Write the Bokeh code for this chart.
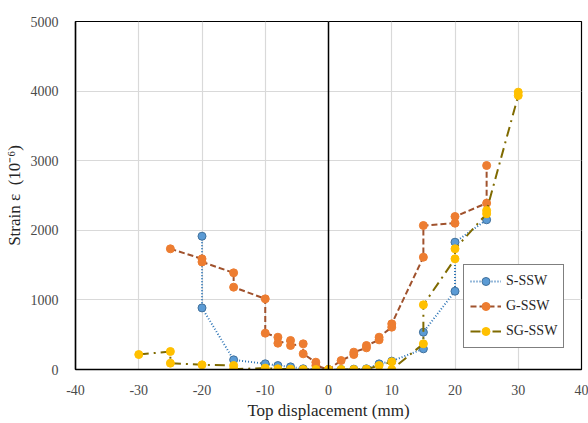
from bokeh.plotting import figure
from bokeh.models import Span, FixedTicker, Legend
from bokeh.embed import file_html
from bokeh.resources import INLINE

# ---- data ----
s_x = [-20, -20, -15, -10, -8, -6, -4, -2, 0, 2, 4, 6, 8, 10, 15, 15, 20, 20, 25]
s_y = [1915, 885, 139, 82, 57, 38, 10, 5, 0, 0, 5, 10, 81, 120, 297, 536, 1125, 1829, 2151]

g_x = [-25, -20, -20, -15, -15, -10, -10, -8, -8, -6, -6, -4, -4, -2, -2, 0,
       2, 4, 4, 6, 6, 8, 8, 10, 10, 15, 15, 20, 20, 25, 25]
g_y = [1734, 1590, 1545, 1389, 1183, 1015, 522, 464, 378, 417, 345, 369, 225, 105, 57, 0,
       129, 215, 249, 311, 345, 426, 464, 608, 656, 1614, 2069, 2102, 2198, 2390, 2931]

sg_x = [-30, -25, -25, -20, -15, -15, -10, -8, -6, -4, -2, 0, 2, 4, 6, 8, 10, 10,
        15, 15, 20, 20, 25, 25, 30, 30]
sg_y = [215, 259, 91, 67, 57, 5, 20, 10, 5, 0, 0, 0, 0, 0, 5, 57, 110, 0,
        369, 929, 1590, 1734, 2237, 2284, 3937, 3985]

x_ticks = [-40, -30, -20, -10, 0, 10, 20, 30, 40]
y_ticks = [0, 1000, 2000, 3000, 4000, 5000]

FONT = "Liberation Serif"

p = figure(width=588, height=423, x_range=(-40, 40), y_range=(0, 5000),
           output_backend="svg", toolbar_location=None,
           min_border_left=75, min_border_right=7, min_border_top=21, min_border_bottom=54)

p.background_fill_color = "white"
p.border_fill_color = "white"
p.outline_line_color = "black"
p.outline_line_width = 1.2

p.xaxis.ticker = FixedTicker(ticks=x_ticks)
p.yaxis.ticker = FixedTicker(ticks=y_ticks)
p.xaxis.major_label_overrides = {t: str(t) for t in x_ticks}
p.yaxis.major_label_overrides = {t: str(t) for t in y_ticks}
p.xgrid.grid_line_color = "#d9d9d9"
p.ygrid.grid_line_color = "#d9d9d9"
p.xgrid.grid_line_width = 1.2
p.ygrid.grid_line_width = 1.2

for ax in (p.xaxis, p.yaxis):
    ax.major_tick_line_color = None
    ax.minor_tick_line_color = None
    ax.axis_line_color = "black"
    ax.axis_line_width = 1.5
    ax.major_label_text_font = FONT
    ax.major_label_text_font_size = "14px"
    ax.major_label_text_color = "#4a4a4a"
    ax.axis_label_text_font = FONT
    ax.axis_label_text_font_size = "17px"
    ax.axis_label_text_font_style = "normal"
    ax.axis_label_text_color = "#262626"

p.xaxis.axis_label = "Top displacement (mm)"
p.yaxis.axis_label = "Strain ε\u00a0\u00a0(10⁻⁶)"
p.xaxis.major_label_standoff = 9
p.yaxis.major_label_standoff = 11
p.xaxis.axis_label_standoff = 3
p.yaxis.axis_label_standoff = 4

p.add_layout(Span(location=0, dimension="height", line_color="black", line_width=1.5))

l1 = p.line(s_x, s_y, line_color="#2E75B6", line_width=2, line_dash="1 2")
m1 = p.scatter(s_x, s_y, size=8, fill_color="#5B9BD5", line_color="#41719C", line_width=1)
l2 = p.line(g_x, g_y, line_color="#A0522D", line_width=2, line_dash="6 3")
m2 = p.scatter(g_x, g_y, size=8, fill_color="#ED7D31", line_color="#ED7D31")
l3 = p.line(sg_x, sg_y, line_color="#7F6A00", line_width=2, line_dash="10 5 2 5")
m3 = p.scatter(sg_x, sg_y, size=8, fill_color="#FFC000", line_color="#FFC000")

legend = Legend(items=[("S-SSW", [l1, m1]), ("G-SSW", [l2, m2]), ("SG-SSW", [l3, m3])],
                location=(388, 21))
legend.label_text_font = FONT
legend.label_text_font_size = "14px"
legend.label_text_color = "#262626"
legend.border_line_color = "black"
legend.border_line_width = 1.5
legend.glyph_width = 31
legend.glyph_height = 20
legend.label_height = 20
legend.spacing = 5
legend.padding = 6
legend.label_standoff = 5
legend.margin = 0
legend.background_fill_alpha = 1
p.add_layout(legend)

open("out.html", "w").write(file_html(p, INLINE))
